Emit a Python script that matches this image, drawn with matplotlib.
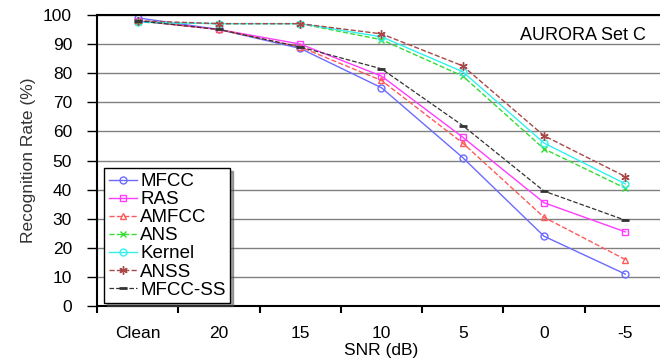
import matplotlib
matplotlib.use('Agg')
import matplotlib.pyplot as plt
import numpy as np

plt.rcParams['font.family'] = ['Liberation Sans', 'DejaVu Sans']

snr = ['Clean', '20', '15', '10', '5', '0', '-5']
mfcc = [99, 95, 88.5, 75, 51, 24, 11]
ras = [98, 95, 90, 79, 58, 35.5, 25.5]
amfcc = [98, 95, 89, 77.5, 56, 30.5, 16]
ans = [97.5, 97, 97, 91.5, 79, 54, 40.5]
kernel = [97.5, 97, 97, 92.5, 80.5, 56, 42]
anss = [98, 97, 97, 93.5, 82.5, 58.5, 44.5]
mfcc_ss = [98, 95, 89, 81.5, 62, 39.5, 29.5]

fig = plt.figure(figsize=(6.6, 3.64), dpi=100)
ax = fig.add_axes([0.147, 0.159, 0.862, 0.800])

x = np.arange(len(snr))
ax.plot(x, mfcc, color='#6b6bff', ls='-', lw=1, marker='o', ms=5, mfc='none', label='MFCC')
ax.plot(x, ras, color='#ff3cff', ls='-', lw=1, marker='s', ms=5, mfc='none', label='RAS')
ax.plot(x, amfcc, color='#ff5a5a', ls='--', lw=1, marker='^', ms=5, mfc='none', label='AMFCC')
ax.plot(x, ans, color='#33dd33', ls='--', lw=1, marker='x', ms=5, label='ANS')
ax.plot(x, kernel, color='#33f0f0', ls='-', lw=1, marker='o', ms=5, mfc='none', label='Kernel')
ax.plot(x, anss, color='#a84848', ls='--', lw=1, marker=(6, 2, 0), ms=6, label='ANSS')
ax.plot(x, mfcc_ss, color='#333333', ls='--', lw=0.9, marker='_', ms=6, mew=2, label='MFCC-SS')

ax.set_xlim(-0.5, len(snr) - 0.5)
ax.set_ylim(0, 100)
ax.set_yticks(np.arange(0, 101, 10))
ax.yaxis.grid(True, color='#808080', lw=1)
ax.set_axisbelow(True)

ax.set_xticks(x)
ax.set_xticklabels(snr)
ax.set_xticks(np.arange(-0.5, len(snr), 1.0), minor=True)
ax.tick_params(axis='x', which='major', length=0, pad=14, labelsize=12.5)
ax.tick_params(axis='x', which='minor', length=5, width=1.5, direction='out')
ax.tick_params(axis='y', length=7, width=1, direction='out', labelsize=12.5, pad=11)

for s in ['left', 'bottom', 'top']:
    ax.spines[s].set_color('black')
    ax.spines[s].set_linewidth(1.5)
ax.spines['right'].set_visible(False)

ax.set_ylabel('Recognition Rate (%)', fontsize=12.5, color='#333333', labelpad=5)
ax.set_xlabel('SNR (dB)', fontsize=12.5, labelpad=2)

ax.text(0.965, 0.93, 'AURORA Set C', transform=ax.transAxes, ha='right', va='center', fontsize=13)

leg = ax.legend(loc='lower left', bbox_to_anchor=(0.008, 0.0), fontsize=13.5, frameon=True,
                fancybox=False, shadow=True, handlelength=1.5, handletextpad=0.15,
                labelspacing=0.05, borderpad=0.25, borderaxespad=0.15)
leg.get_frame().set_edgecolor('black')
leg.get_frame().set_linewidth(1)

fig.savefig('out.png', dpi=100)
